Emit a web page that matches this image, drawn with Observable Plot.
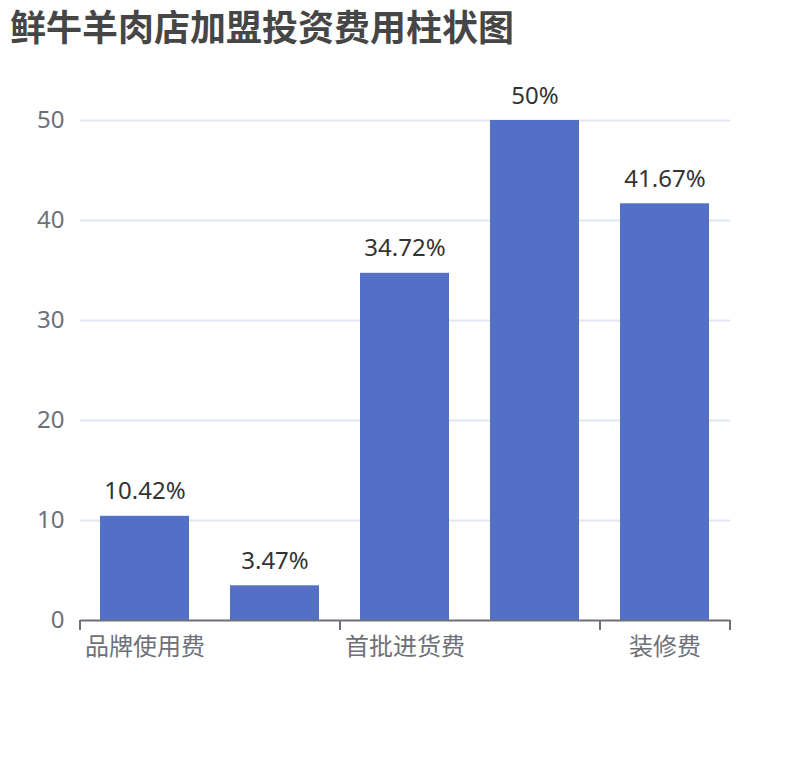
<!DOCTYPE html>
<html>
<head>
<meta charset="utf-8">
<script src="https://cdn.jsdelivr.net/npm/d3@7"></script>
<script src="https://cdn.jsdelivr.net/npm/@observablehq/plot@0.6"></script>
<style>
  html, body { margin: 0; padding: 0; background: #fff; }
  #wrap { position: relative; width: 810px; height: 760px; }
  #title { position: absolute; left: 10px; top: 7px; font-family: "Noto Sans CJK SC", "Noto Sans", sans-serif; font-weight: bold; font-size: 36px; line-height: 36px; color: #464646; white-space: nowrap; z-index: 2; }
  #chart { position: absolute; left: 0; top: 0; }
</style>
</head>
<body>
<div id="wrap">
  <div id="title">鲜牛羊肉店加盟投资费用柱状图</div>
  <div id="chart"></div>
</div>
<script>
const categories = ["品牌使用费", "加盟费", "首批进货费", "设备费", "装修费"];
const values = [10.42, 3.47, 34.72, 50, 41.67];
const shownLabels = ["品牌使用费", "首批进货费", "装修费"];
const yTicks = [0, 10, 20, 30, 40, 50];

const data = categories.map((c, i) => ({ category: c, value: values[i] }));

const W = 810, H = 760, mL = 80, mR = 80, mT = 120, mB = 140;
const step = (W - mL - mR) / categories.length;
const boundaryCats = [categories[0], categories[2], categories[4]];

const chart = Plot.plot({
  width: W,
  height: H,
  marginLeft: mL,
  marginRight: mR,
  marginTop: mT,
  marginBottom: mB,
  style: { fontFamily: "'Noto Sans', 'Noto Sans CJK SC', sans-serif", fontSize: "24px", color: "#6e7079", background: "transparent" },
  x: { domain: categories, paddingInner: 0.315, paddingOuter: 0.1575, align: 0.5, label: null },
  y: { domain: [0, 50], label: null },
  marks: [
    Plot.ruleY(yTicks.filter(v => v > 0), { stroke: "#e0e6f1", strokeWidth: 2 }),
    Plot.barY(data, { x: "category", y: "value", fill: "#5470c6" }),
    Plot.ruleY([0], { stroke: "#6e7079", strokeWidth: 2 }),
    Plot.ruleX(boundaryCats, { x: d => d, dx: -step / 2, stroke: "#6e7079", strokeWidth: 2, insetTop: H - mT - mB, insetBottom: -10 }),
    Plot.ruleX([categories[4]], { x: d => d, dx: step / 2, stroke: "#6e7079", strokeWidth: 2, insetTop: H - mT - mB, insetBottom: -10 }),
    Plot.axisY({ ticks: yTicks, tickSize: 0, tickPadding: 16, fontSize: 24, fill: "#6e7079", label: null }),
    Plot.axisX({ ticks: shownLabels, tickSize: 0, tickPadding: 17, fontSize: 24, fill: "#6e7079", label: null, fontFamily: "'Noto Sans CJK SC', sans-serif" }),
    Plot.text(data, { x: "category", y: "value", text: d => `${d.value}%`, lineAnchor: "bottom", dy: -17, fontSize: 24, fill: "#333" })
  ]
});
document.getElementById("chart").appendChild(chart);
</script>
</body>
</html>
